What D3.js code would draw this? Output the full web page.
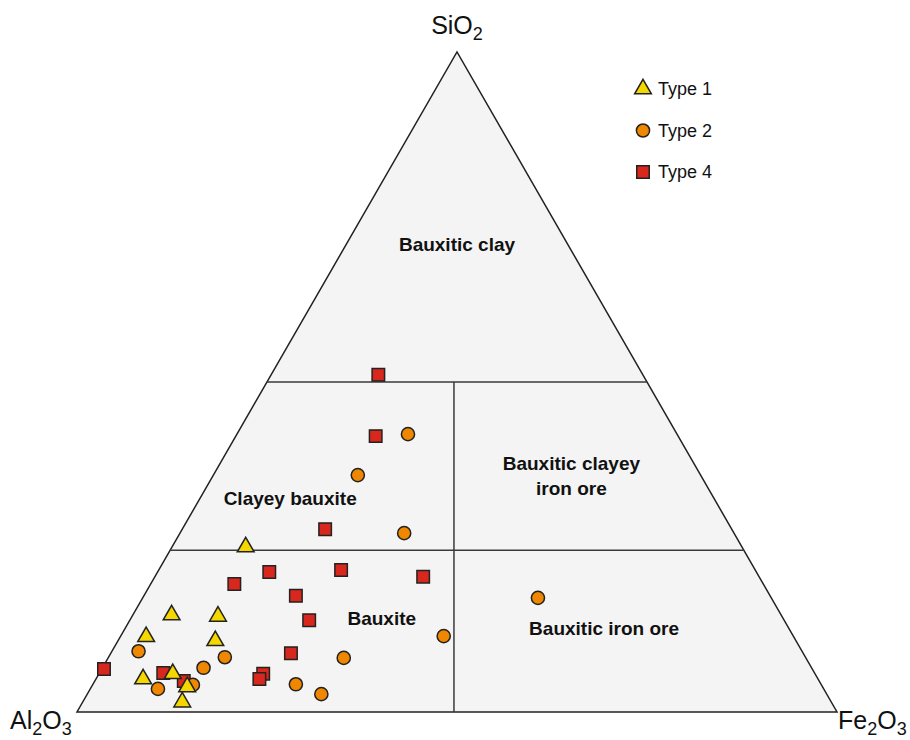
<!DOCTYPE html>
<html>
<head>
<meta charset="utf-8">
<script src="https://cdn.jsdelivr.net/npm/d3@7"></script>
<style>
  body { margin: 0; background: #fff; }
  text { font-family: "Liberation Sans", Arial, sans-serif; }
</style>
</head>
<body>
<svg id="ternary"></svg>
<script>
// compositions in %: [SiO2, Al2O3, Fe2O3]
var type1 = [
    [25.0, 65.3, 9.7], [14.7, 80.2, 5.1], [14.5, 74.2, 11.3], [11.4, 85.2, 3.4],
    [10.8, 76.5, 12.8], [5.8, 84.5, 9.7], [5.0, 88.8, 6.2], [3.8, 83.6, 12.6],
    [1.5, 85.4, 13.1]
];
var type2 = [
    [42.1, 35.4, 22.5], [35.9, 45.1, 19.0], [27.1, 43.4, 29.5], [17.3, 30.7, 52.0],
    [11.5, 46.0, 42.5], [8.2, 60.8, 31.0], [8.3, 76.4, 15.3], [6.7, 80.0, 13.3],
    [9.2, 87.3, 3.5], [3.5, 87.6, 8.9], [4.1, 82.7, 13.2], [4.2, 69.1, 26.7],
    [2.7, 66.5, 30.8]
];
var type4 = [
    [51.1, 34.8, 14.1], [41.8, 39.8, 18.4], [27.7, 53.5, 18.8], [21.2, 64.1, 14.7],
    [21.5, 54.5, 24.0], [20.5, 44.2, 35.3], [19.4, 69.6, 11.0], [17.6, 62.4, 20.0],
    [13.9, 62.5, 23.6], [8.9, 67.4, 23.7], [5.8, 72.6, 21.6], [5.0, 73.5, 21.5],
    [6.5, 93.2, 0.3], [5.9, 85.7, 8.4], [4.7, 83.6, 11.7]
];

// field boundaries, each a pair of compositions
var boundaries = [
    [[50, 50, 0], [50, 0, 50]],
    [[24.5, 75.5, 0], [24.5, 0, 75.5]],
    [[50, 25.4, 24.6], [0, 50.4, 49.6]]
];
var outline = [[0, 100, 0], [0, 0, 100], [100, 0, 0]];

var fields = [
    { name: ["Bauxitic clay"], at: [70.8, 14.6, 14.6] },
    { name: ["Clayey bauxite"], at: [32.3, 55.8, 11.9] },
    { name: ["Bauxitic clayey", "iron ore"], at: [37.7, 16.1, 46.2] },
    { name: ["Bauxite"], at: [14.2, 52.8, 33.0] },
    { name: ["Bauxitic iron ore"], at: [12.7, 24.3, 63.0] }
];

var legendLabels = ["Type 1", "Type 2", "Type 4"];

var svgWidth = 910, svgHeight = 740;
var svg = d3.select('#ternary')
    .attr("width", svgWidth)
    .attr("height", svgHeight);

var x = d3.scaleLinear().domain([0, 100]).range([77, 837]);
var y = d3.scaleLinear().domain([0, 100]).range([712, 52]);

function px(c) { return x(c[2] + c[0] / 2); }
function py(c) { return y(c[0]); }

var line = d3.line()
    .x(function(d) { return px(d); })
    .y(function(d) { return py(d); });

svg.append("path")
    .datum(outline)
    .attr("d", line.curve(d3.curveLinearClosed))
    .attr("fill", "#f4f4f4")
    .attr("stroke", "#222")
    .attr("stroke-width", 1.5)
    .attr("stroke-linejoin", "miter");

line.curve(d3.curveLinear);
svg.selectAll(".boundary")
    .data(boundaries)
    .enter().append("path")
    .attr("class", "boundary")
    .attr("d", line)
    .attr("fill", "none")
    .attr("stroke", "#3a3a3a")
    .attr("stroke-width", 1.5);

// field names
fields.forEach(function(f) {
    var t = svg.append("text")
        .attr("x", px(f.at))
        .attr("y", py(f.at))
        .attr("text-anchor", "middle")
        .style("font-size", "19px")
        .style("font-weight", "bold")
        .attr("fill", "#111");
    f.name.forEach(function(s, i) {
        t.append("tspan")
            .attr("x", px(f.at))
            .attr("dy", i === 0 ? "0.35em" : "1.3em")
            .text(s);
    });
});

// corner labels
function formula(parts, xx, yy, anchor) {
    var t = svg.append("text")
        .attr("x", xx).attr("y", yy)
        .attr("text-anchor", anchor)
        .style("font-size", "25px")
        .attr("fill", "#111");
    parts.forEach(function(p) {
        t.append("tspan")
            .style("font-size", p.sub ? "18px" : "25px")
            .attr("dy", p.sub ? 6 : -6)
            .text(p.s);
    });
    t.select("tspan").attr("dy", 0);
}
formula([{ s: "SiO" }, { s: "2", sub: true }], 457, 34, "middle");
formula([{ s: "Al" }, { s: "2", sub: true }, { s: "O" }, { s: "3", sub: true }], 10, 729, "start");
formula([{ s: "Fe" }, { s: "2", sub: true }, { s: "O" }, { s: "3", sub: true }], 838, 729, "start");

// samples
var styles = [
    { data: type4, symbol: d3.symbolSquare, size: 156, fill: "#d8271d" },
    { data: type2, symbol: d3.symbolCircle, size: 136, fill: "#f08700" },
    { data: type1, symbol: d3.symbolTriangle, size: 122, fill: "#f5d700" }
];

styles.forEach(function(st) {
    svg.append("g").selectAll("path")
        .data(st.data)
        .enter().append("path")
        .attr("d", d3.symbol().type(st.symbol).size(st.size))
        .attr("transform", function(d) { return "translate(" + px(d) + "," + py(d) + ")"; })
        .attr("fill", st.fill)
        .attr("stroke", "#222")
        .attr("stroke-width", 1.5);
});

// legend
var legendStyles = [styles[2], styles[1], styles[0]];
legendLabels.forEach(function(label, i) {
    var ly = 89 + i * 41.5;
    svg.append("path")
        .attr("d", d3.symbol().type(legendStyles[i].symbol).size(legendStyles[i].size))
        .attr("transform", "translate(643," + ly + ")")
        .attr("fill", legendStyles[i].fill)
        .attr("stroke", "#222")
        .attr("stroke-width", 1.5);
    svg.append("text")
        .attr("x", 658)
        .attr("y", ly)
        .attr("dy", "0.36em")
        .style("font-size", "18px")
        .attr("fill", "#111")
        .text(label);
});
</script>
</body>
</html>
